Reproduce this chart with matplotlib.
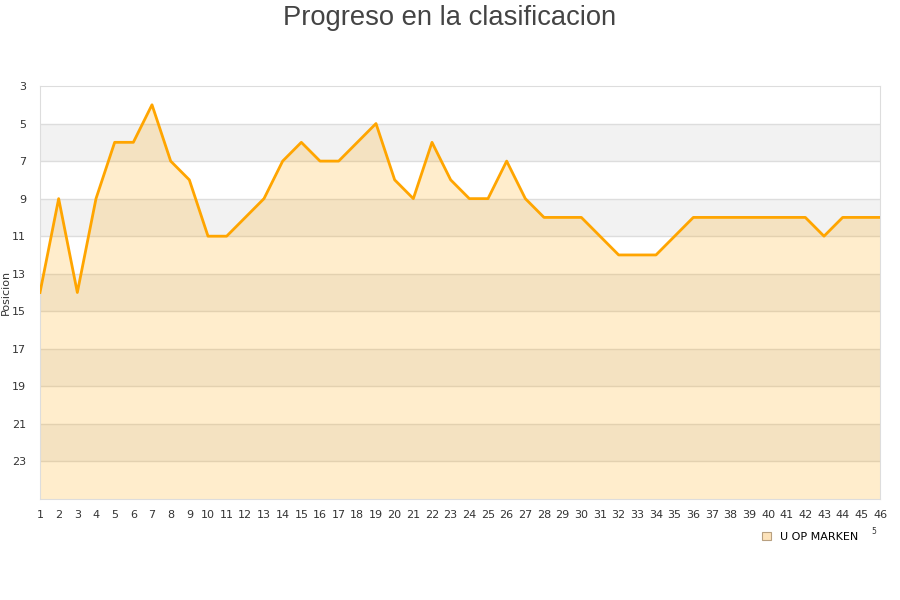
import numpy as np
import matplotlib
matplotlib.use("Agg")
import matplotlib.pyplot as plt
from matplotlib.patches import Patch

# Datos: posicion por jornada
jornadas = list(range(1, 47))
posiciones = [14, 9, 14, 9, 6, 6, 4, 7, 8, 11,
              11, 10, 9, 7, 6, 7, 7, 6, 5, 8,
              9, 6, 8, 9, 9, 7, 9, 10, 10, 10,
              11, 12, 12, 12, 11, 10, 10, 10, 10, 10,
              10, 10, 11, 10, 10, 10]
y_ticks = list(range(3, 24, 2))
equipo = "U OP MARKEN"

fig = plt.figure(figsize=(9, 6), dpi=100)
ax = fig.add_axes([40 / 900, 1 - 499 / 600, 840 / 900, 413 / 600])

# bandas alternas
for i, y0 in enumerate(range(3, 25, 2)):
    if i % 2 == 1:
        ax.axhspan(y0, y0 + 2, color="#f2f2f2", zorder=0, lw=0)
for y in range(5, 25, 2):
    ax.axhline(y, color="#dddddd", lw=1, zorder=1)

ax.fill_between(jornadas, posiciones, 25, color="orange", alpha=0.2, lw=0, zorder=2)
ax.plot(jornadas, posiciones, color="#ffa500", lw=2, zorder=3)

ax.set_xlim(1, 46)
ax.set_ylim(25, 3)
ax.set_xticks(jornadas)
ax.set_yticks(y_ticks)
ax.tick_params(length=0, labelsize=8, colors="#333333", pad=8)
ax.tick_params(axis="y", pad=10)
for s in ax.spines.values():
    s.set_color("#dddddd")
ax.set_ylabel("Posicion", fontsize=8, color="#333333")
ax.yaxis.set_label_coords(-29 / 840, 0.5)

fig.text(0.5, 1 - 18 / 600, "Progreso en la clasificacion", fontsize=19.7,
         color="#444444", ha="center", va="center", family="Liberation Sans")

handle = Patch(facecolor="#fde3bb", edgecolor="#b8a080", lw=0.8)
fig.legend([handle], [equipo], loc="center", bbox_to_anchor=(810 / 900, 1 - 537 / 600),
           frameon=False, fontsize=8, handlelength=0.8, handleheight=0.8, handletextpad=0.8)
fig.text(874 / 900, 1 - 532 / 600, "5", fontsize=5.5, color="#333333", ha="center", va="center")

plt.savefig("out.png", dpi=100)
